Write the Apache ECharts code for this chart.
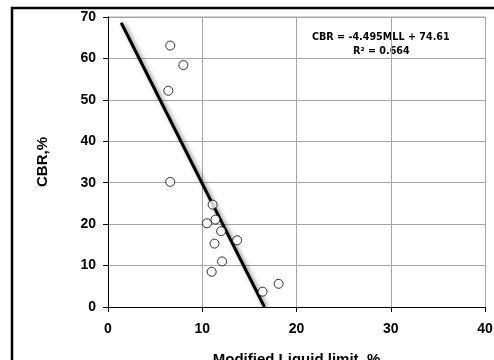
<!DOCTYPE html>
<html>
<head>
<meta charset="utf-8">
<script src="https://cdn.jsdelivr.net/npm/echarts@6/dist/echarts.min.js"></script>
<style>
  html, body { margin: 0; padding: 0; background: #fff; }
  #chart { width: 494px; height: 360px; }
</style>
</head>
<body>
<div id="chart"></div>
<script>
// measured points: modified liquid limit (%) vs CBR (%)
const mllValues = [6.6, 8.0, 6.4, 6.6, 11.1, 11.4, 10.5, 12.0, 13.7, 11.3, 12.1, 11.0, 18.1, 16.4];
const cbrValues = [63.1, 58.4, 52.2, 30.2, 24.7, 21.1, 20.2, 18.3, 16.1, 15.3, 11.0, 8.5, 5.6, 3.7];

// fitted line end points, as drawn
const trendX = [1.4, 16.6];
const trendY = [68.6, 0];

const xTicks = [0, 10, 20, 30, 40];
const yTicks = [0, 10, 20, 30, 40, 50, 60, 70];

const equationText = 'CBR = -4.495MLL + 74.61';
const r2Text = 'R² = 0.664';

const AXIS_FONT = { color: '#000', fontFamily: 'Liberation Sans, Arial', fontWeight: 'bold', fontSize: 14 };

const chart = echarts.init(document.getElementById('chart'));
chart.setOption({
  animation: false,
  backgroundColor: '#fff',
  grid: { left: 108, right: 9, top: 17, bottom: 53, show: false, outerBoundsMode: 'none', containLabel: false },
  xAxis: {
    type: 'value',
    min: xTicks[0],
    max: xTicks[xTicks.length - 1],
    interval: 10,
    name: 'Modified Liquid limit, %',
    nameLocation: 'middle',
    nameGap: 45,
    nameTextStyle: { ...AXIS_FONT, fontSize: 15 },
    axisLine: { show: true, onZero: false, lineStyle: { color: '#000', width: 1 } },
    axisTick: { show: true, length: 5, lineStyle: { color: '#000' } },
    axisLabel: { ...AXIS_FONT, margin: 15 },
    splitLine: { show: true, lineStyle: { color: '#a6a6a6', width: 1 } },
  },
  yAxis: {
    type: 'value',
    min: yTicks[0],
    max: yTicks[yTicks.length - 1],
    interval: 10,
    name: 'CBR,%',
    nameLocation: 'middle',
    nameGap: 58,
    nameRotate: 90,
    nameTextStyle: { ...AXIS_FONT, fontSize: 15 },
    axisLine: { show: true, onZero: false, lineStyle: { color: '#000', width: 1 } },
    axisTick: { show: true, length: 5, lineStyle: { color: '#000' } },
    axisLabel: { ...AXIS_FONT, margin: 12 },
    splitLine: { show: true, lineStyle: { color: '#a6a6a6', width: 1 } },
  },
  graphic: [
    // outer chart frame (runs off the right and bottom of the picture)
    { type: 'rect', shape: { x: 12, y: 8, width: 520, height: 400 },
      style: { fill: null, stroke: '#000', lineWidth: 2.5 }, silent: true },
    // plot area top border
    { type: 'line', shape: { x1: 108, y1: 17, x2: 485, y2: 17 },
      style: { stroke: '#a6a6a6', lineWidth: 1 }, silent: true },
    { type: 'text', left: 312, top: 32,
      style: { text: equationText, fill: '#000', font: 'bold 9.6px "DejaVu Sans", Verdana' } },
    { type: 'text', left: 353, top: 46,
      style: { text: r2Text, fill: '#000', font: 'bold 9.6px "DejaVu Sans", Verdana' } },
  ],
  series: [
    {
      type: 'line',
      data: trendX.map((x, i) => [x, trendY[i]]),
      showSymbol: false,
      lineStyle: { color: '#000', width: 3, shadowColor: 'rgba(0,0,0,0.45)', shadowBlur: 4, shadowOffsetX: 2, shadowOffsetY: 1 },
      z: 3,
    },
    {
      type: 'scatter',
      data: mllValues.map((x, i) => [x, cbrValues[i]]),
      symbol: 'circle',
      symbolSize: 9,
      itemStyle: { color: '#fff', borderColor: '#000', borderWidth: 1 },
      z: 4,
    },
  ],
});
</script>
</body>
</html>
